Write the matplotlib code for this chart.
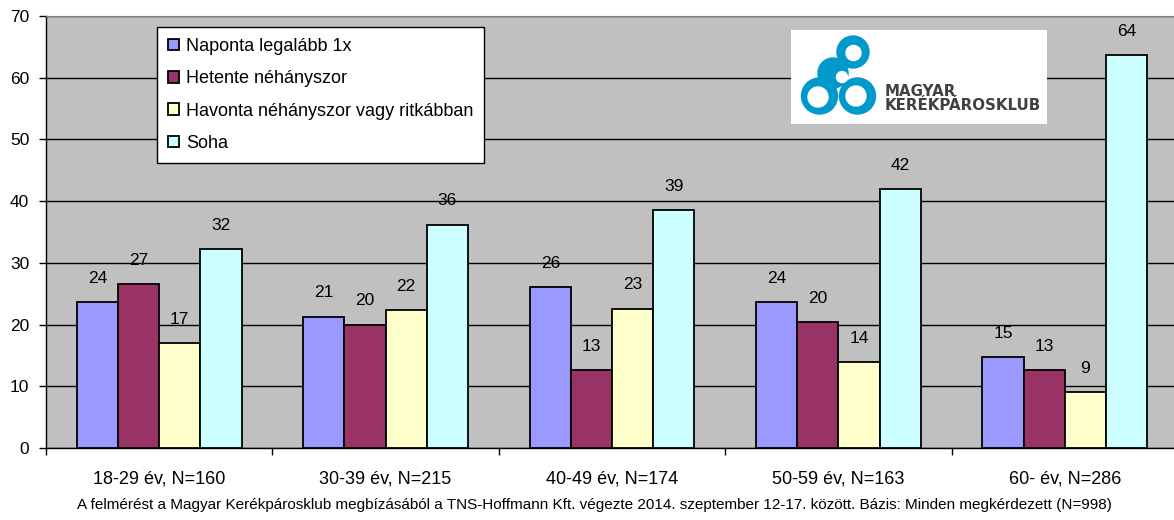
import matplotlib.pyplot as plt
import matplotlib.patches as mpatches
import numpy as np

plt.rcParams['font.family'] = ['Liberation Sans', 'DejaVu Sans']

# Adatok (korcsoportonként, %)
csoportok = ['18-29 év, N=160', '30-39 év, N=215', '40-49 év, N=174',
             '50-59 év, N=163', '60- év, N=286']
sorozatok = ['Naponta legalább 1x', 'Hetente néhányszor',
             'Havonta néhányszor vagy ritkábban', 'Soha']
naponta = [23.6, 21.3, 26.1, 23.6, 14.8]
hetente = [26.6, 20.0, 12.6, 20.4, 12.6]
havonta = [17.0, 22.3, 22.6, 13.9, 9.0]
soha = [32.3, 36.2, 38.6, 41.9, 63.6]
y_ticks = [0, 10, 20, 30, 40, 50, 60, 70]
labjegyzet = ('A felmérést a Magyar Kerékpárosklub megbízásából a TNS-Hoffmann Kft. '
              'végezte 2014. szeptember 12-17. között. Bázis: Minden megkérdezett (N=998)')

szinek = ['#9999ff', '#993366', '#ffffcc', '#ccffff']
ertekek = [naponta, hetente, havonta, soha]

fig = plt.figure(figsize=(11.74, 5.2), dpi=100)
ax = fig.add_axes([46 / 1174, 72 / 520, 1132 / 1174, 432 / 520])
ax.set_facecolor('#c0c0c0')

x = np.arange(len(csoportok)) + 0.5
w = 1 / 5.5
for i in range(len(sorozatok)):
    pos = x + (i - 1.5) * w
    ax.bar(pos, ertekek[i], width=w, color=szinek[i], edgecolor='black',
           linewidth=1.3, label=sorozatok[i], zorder=3)
    for p, v in zip(pos, ertekek[i]):
        ax.annotate('%.0f' % v, (p, v), xytext=(0, 17), textcoords='offset points',
                    ha='center', va='center', fontsize=12.5)

ax.set_xlim(0, len(csoportok))
ax.set_ylim(0, 70)
ax.set_yticks(y_ticks)
ax.yaxis.grid(True, color='black', linewidth=1)
ax.set_axisbelow(True)

# csoporthatarok a fo tickek, a feliratok a kozepeken
ax.set_xticks(np.arange(len(csoportok) + 1))
ax.set_xticklabels([])
ax.set_xticks(x, minor=True)
ax.set_xticklabels(csoportok, minor=True)
ax.tick_params(axis='x', which='major', length=5, width=1, direction='out')
ax.tick_params(axis='x', which='minor', length=0, pad=16, labelsize=13)
ax.tick_params(axis='y', length=5, width=1, direction='out', pad=7, labelsize=12.5)

ax.spines['right'].set_visible(False)
ax.spines['top'].set_color('#808080')
ax.spines['left'].set_linewidth(1)
ax.spines['bottom'].set_linewidth(1)

leg = ax.legend(loc='upper left', bbox_to_anchor=(157 / 1174, 1 - 27 / 520),
                bbox_transform=fig.transFigure, fontsize=13, frameon=True,
                fancybox=False, framealpha=1, edgecolor='black',
                handlelength=0.6, handleheight=0.6, handletextpad=0.4,
                labelspacing=0.85, borderpad=0.6, borderaxespad=0)
leg.get_frame().set_linewidth(1)
leg.set_zorder(5)

# logo
lax = fig.add_axes([791 / 1174, 396 / 520, 256 / 1174, 94 / 520])
lax.set_xlim(0, 256)
lax.set_ylim(94, 0)
lax.set_facecolor('white')
lax.set_xticks([])
lax.set_yticks([])
for s in lax.spines.values():
    s.set_visible(False)
kek = '#0099cc'
for cx, cy, r in [(62, 22, 16), (42, 43, 15), (28.5, 66, 18), (66.5, 66, 18)]:
    lax.add_patch(mpatches.Circle((cx, cy), r, color=kek))
for cx, cy, r in [(51, 47, 5.5), (62.5, 23, 7.5), (27, 67, 10), (65, 66, 10)]:
    lax.add_patch(mpatches.Circle((cx, cy), r, color='white'))
lax.text(94, 62, 'MAGYAR', fontsize=10.8, color='#404040', va='center',
         family='DejaVu Sans', fontweight='bold')
lax.text(94, 76, 'KERÉKPÁROSKLUB', fontsize=10.8, color='#404040', va='center',
         family='DejaVu Sans', fontweight='bold')

fig.text(594 / 1174, 1 - 505 / 520, labjegyzet, ha='center', va='center', fontsize=11)

fig.savefig('out.png', dpi=100)
